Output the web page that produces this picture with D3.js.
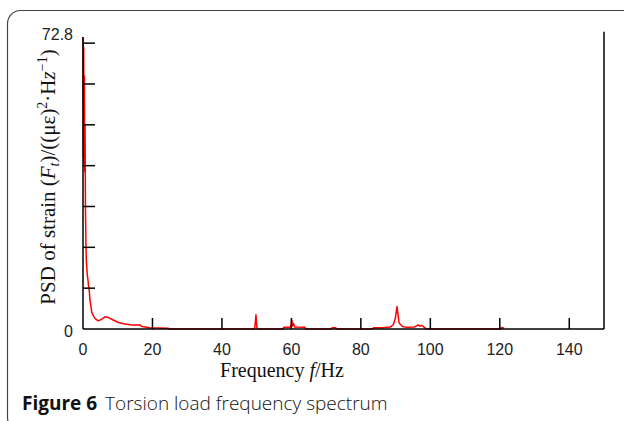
<!DOCTYPE html>
<html><head><meta charset="utf-8">
<script src="https://cdn.jsdelivr.net/npm/d3@7/dist/d3.min.js"></script>
<style>
html,body{margin:0;padding:0;background:#fff;}
svg{display:block;}
</style></head>
<body>
<svg id="chart" width="624" height="421"></svg>
<script>
// ---- data ----
const freqHz = [0,0.1,0.2,0.3,0.4,0.5,0.6,0.7,0.85,0.95,1.2,1.44,1.6,1.8,2.0,2.3,2.5,3.0,3.45,4.4,5.4,6.3,7.3,8.7,10.2,12.1,14.0,16.4,17.0,19.3,24.6,24.8,
  49.4,49.6,49.8,50.0,50.2,
  57.6,57.8,59.6,59.9,60.1,60.3,60.6,60.9,63.9,64.1,
  71.5,71.7,72.8,73.0,
  83.4,83.6,86.0,88.5,89.3,89.9,90.4,90.7,91.0,91.4,92.0,93.2,95.5,96.5,97.0,97.5,98.5,98.9,
  120.3,120.5,121.0,121.2];
const psd = [71.5,42,69,40,62,38.5,50,30,20.6,17,13.5,12,10.5,9.5,7.1,5.5,4.2,3.2,2.6,2.0,2.4,3.0,2.8,2.2,1.6,1.2,1.0,1.0,0.6,0.3,0.2,0,
  0,1.5,3.5,0.8,0,
  0,0.4,0.4,1.0,2.2,0.8,1.4,0.5,0.4,0,
  0,0.3,0.3,0,
  0,0.3,0.3,0.5,1.0,2.5,5.5,3.5,1.5,1.1,0.6,0.4,0.5,1.0,0.7,0.9,0.3,0,
  0,0.4,0.3,0];
const xTicks = [0,20,40,60,80,100,120,140];
const yTicks = [10,20,30,40,50,60,70];
const yLabelTicks = [0,72.8];
const xMax = 150, yMax = 72.8, axisTopValue = 71.5;

const svg = d3.select("#chart");
const margin = {left:83, right:604, top:31.7, bottom:329};
const x = d3.scaleLinear().domain([0,xMax]).range([margin.left, margin.right]);
const y = d3.scaleLinear().domain([0,yMax]).range([margin.bottom, margin.top]);

// frame
svg.append("rect").attr("x",7.5).attr("y",10.5).attr("width",640).attr("height",420)
  .attr("rx",13).attr("fill","none").attr("stroke","#444").attr("stroke-width",1.2);

// data line
const pts = freqHz.map((f,i)=>[f,psd[i]]);
svg.append("path").datum(pts)
  .attr("d", d3.line().x(d=>x(d[0])).y(d=>y(d[1])))
  .attr("fill","none").attr("stroke","#ff0000").attr("stroke-width",1.5).attr("stroke-linejoin","round");

// axes lines
const ax = svg.append("g").attr("stroke","#000").attr("stroke-width",1.5);
ax.append("line").attr("x1",x(0)).attr("x2",x(xMax)).attr("y1",y(0)).attr("y2",y(0));
ax.append("line").attr("x1",x(0)).attr("x2",x(0)).attr("y1",y(0)).attr("y2",y(axisTopValue));
ax.append("line").attr("x1",x(xMax)).attr("x2",x(xMax)).attr("y1",y(0)).attr("y2",y(yMax));
// x ticks (inward)
ax.selectAll(".xt").data(xTicks.filter(d=>d>0)).enter().append("line")
  .attr("x1",d=>x(d)).attr("x2",d=>x(d)).attr("y1",y(0)).attr("y2",y(0)-11);
// y ticks (inward)
ax.selectAll(".yt").data(yTicks).enter().append("line")
  .attr("x1",x(0)).attr("x2",x(0)+12).attr("y1",d=>y(d)).attr("y2",d=>y(d));

// tick labels
svg.selectAll(".xl").data(xTicks).enter().append("text")
  .attr("x",d=>x(d)).attr("y",355).attr("text-anchor","middle")
  .attr("font-family","Liberation Sans, Arial, sans-serif").attr("font-size",16).attr("fill","#222")
  .text(d=>d);
svg.selectAll(".yl").data(yLabelTicks).enter().append("text")
  .attr("x",73).attr("y",d=>d===0?337:y(d)+8).attr("text-anchor","end")
  .attr("font-family","Liberation Sans, Arial, sans-serif").attr("font-size",16).attr("fill","#222")
  .text(d=>d);

// x axis title
const xt = svg.append("text").attr("x",282).attr("y",377).attr("text-anchor","middle")
  .attr("font-family","Liberation Serif, Times New Roman, serif").attr("font-size",20).attr("fill","#111");
xt.append("tspan").text("Frequency ");
xt.append("tspan").attr("font-style","italic").text("f");
xt.append("tspan").text("/Hz");

// y axis title
const yt = svg.append("text").attr("transform","translate(55,177) rotate(-90)").attr("text-anchor","middle")
  .attr("font-family","Liberation Serif, Times New Roman, serif").attr("font-size",21).attr("fill","#111");
yt.append("tspan").text("PSD of strain (");
yt.append("tspan").attr("font-style","italic").text("F");
yt.append("tspan").attr("font-style","italic").attr("font-size",14).attr("dy",4).text("t");
yt.append("tspan").attr("dy",-4).text(")/((με)");
yt.append("tspan").attr("font-size",14).attr("dy",-8).text("2");
yt.append("tspan").attr("dy",8).text("·H");
yt.append("tspan").attr("font-style","italic").text("z");
yt.append("tspan").attr("font-size",14).attr("dy",-8).text("−1");
yt.append("tspan").attr("dy",8).text(")");

// caption
const cap = svg.append("text").attr("x",22).attr("y",410)
  .attr("font-family","Open Sans, Lato, sans-serif").attr("font-size",19).attr("fill","#111");
cap.append("tspan").attr("font-weight","bold").text("Figure 6");
cap.append("tspan").attr("dx",8).attr("font-weight",300).text("Torsion load frequency spectrum");
</script>
</body></html>
